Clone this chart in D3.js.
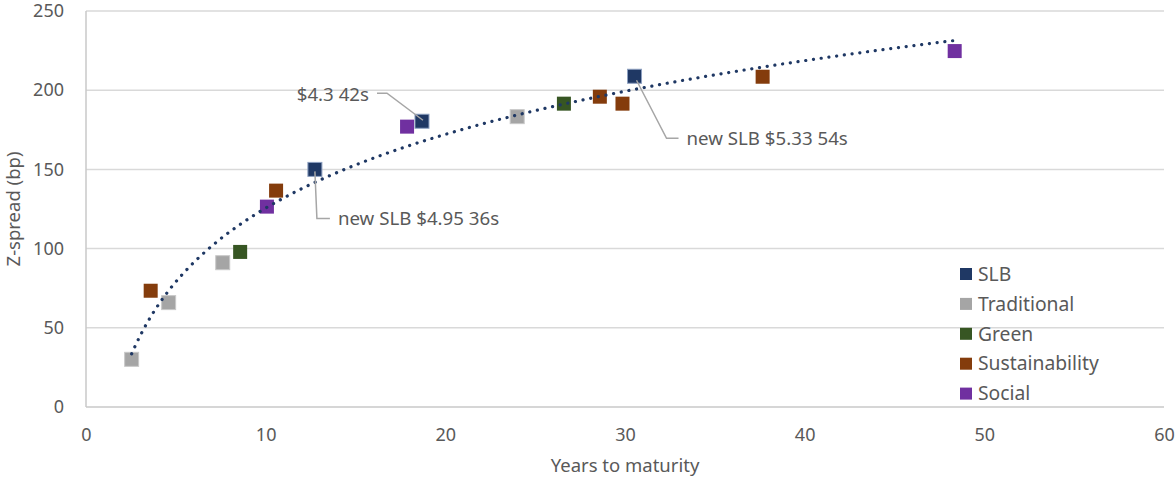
<!DOCTYPE html>
<html><head><meta charset="utf-8">
<script src="https://cdn.jsdelivr.net/npm/d3@7"></script>
<style>
html,body{margin:0;padding:0;background:#fff;}
svg{display:block;font-family:"Noto Sans",sans-serif;}
</style></head>
<body>
<svg id="c" width="1176" height="479"></svg>
<script>
// ---- data ----
const seriesNames = ["SLB","Traditional","Green","Sustainability","Social"];
const seriesColors = ["#1f3864","#a5a5a5","#375623","#843c0c","#7030a0"];
const seriesStroke = ["#8da0c0","#c8c8c8",null,null,null];
const slbX = [18.7, 12.74, 30.53];
const slbY = [180.4, 150.0, 208.8];
const tradX = [2.54, 4.6, 7.61, 24.0];
const tradY = [30.1, 65.9, 91.1, 183.3];
const greenX = [8.58, 26.6];
const greenY = [97.9, 191.5];
const sustX = [3.6, 10.58, 28.6, 29.86, 37.66];
const sustY = [73.4, 136.6, 195.9, 191.5, 208.5];
const socX = [10.07, 17.87, 48.35];
const socY = [126.5, 177.0, 224.7];
const xTicks = [0,10,20,30,40,50,60];
const yTicks = [0,50,100,150,200,250];
const annLabels = ["$4.3 42s","new SLB $4.95 36s","new SLB $5.33 54s"];
const annPoint = [0,1,2]; // index into SLB series

const seriesX = [slbX,tradX,greenX,sustX,socX];
const seriesY = [slbY,tradY,greenY,sustY,socY];

// ---- layout ----
const svg = d3.select("#c");
const x = d3.scaleLinear().domain([0,60]).range([86,1164]);
const y = d3.scaleLinear().domain([0,250]).range([407,11]);
const txt = "#595959";

// gridlines
svg.append("g").selectAll("line").data(yTicks.filter(d=>d>0)).join("line")
  .attr("x1",x(0)).attr("x2",x(60)).attr("y1",d=>y(d)).attr("y2",d=>y(d))
  .attr("stroke","#d9d9d9").attr("stroke-width",1.5);
// axes lines
svg.append("line").attr("x1",x(0)).attr("x2",x(60)).attr("y1",y(0)).attr("y2",y(0))
  .attr("stroke","#c8c8c8").attr("stroke-width",1.5);
svg.append("line").attr("x1",x(0)).attr("x2",x(0)).attr("y1",y(0)).attr("y2",y(250))
  .attr("stroke","#c8c8c8").attr("stroke-width",1.5);

// ticks via axes
const yAxis = svg.append("g").attr("transform",`translate(${x(0)},0)`)
  .call(d3.axisLeft(y).tickValues(yTicks).tickSize(0).tickPadding(22));
const xAxis = svg.append("g").attr("transform",`translate(0,${y(0)})`)
  .call(d3.axisBottom(x).tickValues(xTicks).tickSize(0).tickPadding(21));
[yAxis,xAxis].forEach(a=>{
  a.select(".domain").remove();
  a.selectAll("text").attr("fill",txt).style("font-size","18px").style("font-family","'Noto Sans',sans-serif");
});

// axis titles
svg.append("text").attr("x",625).attr("y",466).attr("text-anchor","middle")
  .attr("dy","0.35em").attr("fill",txt).style("font-size","18.5px").text("Years to maturity");
svg.append("text").attr("transform","translate(14,209) rotate(-90)").attr("text-anchor","middle")
  .attr("dy","0.35em").attr("fill",txt).style("font-size","18.5px").text("Z-spread (bp)");

// markers
const ms = 14;
seriesNames.forEach((name,i)=>{
  const pts = seriesX[i].map((vx,j)=>({x:vx,y:seriesY[i][j]}));
  svg.append("g").selectAll("rect").data(pts).join("rect")
    .attr("x",d=>x(d.x)-ms/2).attr("y",d=>y(d.y)-ms/2)
    .attr("width",ms).attr("height",ms)
    .attr("fill",seriesColors[i])
    .attr("stroke",seriesStroke[i]||"none").attr("stroke-width",seriesStroke[i]?1:0);
});

// logarithmic trendline (least squares on all points)
const allX = seriesX.flat(), allY = seriesY.flat();
const L = allX.map(Math.log);
const lm = d3.mean(L), ym = d3.mean(allY);
const b = d3.sum(L.map((l,k)=>(l-lm)*(allY[k]-ym))) / d3.sum(L.map(l=>(l-lm)*(l-lm)));
const a = ym - b*lm;
const xmin = d3.min(allX), xmax = d3.max(allX);
const trend = d3.range(0,201).map(k=>{const xv = xmin + (xmax-xmin)*k/200; return [xv, a+b*Math.log(xv)];});
svg.append("path").datum(trend)
  .attr("d",d3.line().x(d=>x(d[0])).y(d=>y(d[1])))
  .attr("fill","none").attr("stroke","#1f3864").attr("stroke-width",3.2)
  .attr("stroke-linecap","round").attr("stroke-dasharray","0.1 7.7");

// annotations (offsets relative to the SLB marker)
const annOff = [
  {p:[[1,-1],[-35,-28],[-45,-28]], t:[-53,-27], anchor:"end"},
  {p:[[0,2],[2,49],[15,49]], t:[23,49], anchor:"start"},
  {p:[[2,4],[32,62],[44,62]], t:[52,62], anchor:"start"}
];
annLabels.forEach((lab,i)=>{
  const k = annPoint[i];
  const px = x(slbX[k]), py = y(slbY[k]);
  const o = annOff[i];
  svg.append("path").attr("d",d3.line()(o.p.map(q=>[px+q[0],py+q[1]])))
    .attr("fill","none").attr("stroke","#a6a6a6").attr("stroke-width",1.5);
  svg.append("text").attr("x",px+o.t[0]).attr("y",py+o.t[1]).attr("dy","0.35em")
    .attr("text-anchor",o.anchor).attr("fill",txt).style("font-size","18.7px").text(lab);
});

// legend
const lg = svg.append("g").attr("transform","translate(960,274)");
seriesNames.forEach((name,i)=>{
  const g = lg.append("g").attr("transform",`translate(0,${i*29.9})`);
  g.append("rect").attr("x",0).attr("y",-6).attr("width",12).attr("height",12).attr("fill",seriesColors[i]);
  g.append("text").attr("x",18).attr("y",0).attr("dy","0.35em").attr("fill",txt)
    .style("font-size","19.3px").text(name);
});
</script>
</body></html>
